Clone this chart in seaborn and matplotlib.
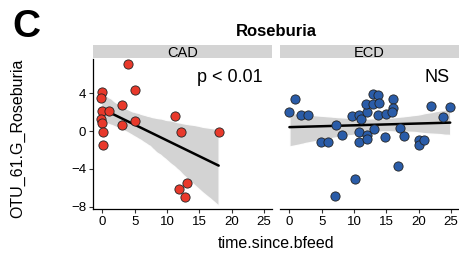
import matplotlib
matplotlib.use("Agg")
import matplotlib.pyplot as plt
import numpy as np
import pandas as pd
import seaborn as sns

# CAD group
cad_time = [3.9, 0.0, -0.2, 5.1, 3.1, 0.0, 1.0, -0.2, -0.1, 3.1, 5.0, 0.15, 0.05,
            11.2, 12.1, 18.0, 13.1, 11.9, 12.8]
cad_otu = [7.05, 4.14, 3.47, 4.4, 2.8, 2.1, 2.1, 1.26, 0.9, 0.63, 1.1, -0.07, -1.5,
           1.6, -0.1, -0.07, -5.5, -6.1, -7.0]

# ECD group
ecd_time = [0.0, 0.8, 1.85, 2.9, 4.9, 5.95, 7.2, 8.15, 7.0, 10.1, 9.75, 10.8, 11.1,
            10.7, 10.8, 12.0, 11.9, 12.0, 12.0, 12.9, 13.0, 13.1, 13.7, 13.85, 13.7,
            14.8, 15.0, 16.0, 16.05, 15.9, 16.8, 17.1, 17.8, 20.05, 20.1, 20.9,
            21.85, 23.85, 24.9]
ecd_otu = [2.07, 3.37, 1.7, 1.7, -1.1, -1.16, 0.6, -0.4, -6.9, -5.05, 1.6, 1.7, 1.3,
           -0.1, -1.1, 2.0, 2.9, -0.4, -0.85, 3.97, 2.9, 0.2, 3.8, 3.0, 1.7,
           -0.6, 1.8, 3.37, 2.45, 2.0, -3.65, 0.3, -0.5, -0.95, -1.5, -0.95,
           2.66, 1.47, 2.5]

panels = ['CAD', 'ECD']
colors = {'CAD': '#e8392b', 'ECD': '#2a5ca8'}
labels = {'CAD': 'p < 0.01', 'ECD': 'NS'}
y_ticks = [-8, -4, 0, 4]
x_ticks = [0, 5, 10, 15, 20, 25]

df = pd.concat([
    pd.DataFrame({'time.since.bfeed': cad_time, 'OTU_61.G_Roseburia': cad_otu, 'group': 'CAD'}),
    pd.DataFrame({'time.since.bfeed': ecd_time, 'OTU_61.G_Roseburia': ecd_otu, 'group': 'ECD'}),
])

sns.set_style('white')
plt.rcParams['font.family'] = ['Liberation Sans', 'DejaVu Sans']
plt.rcParams['text.color'] = 'black'
plt.rcParams['axes.labelcolor'] = 'black'

W, H = 460, 254
fig = plt.figure(figsize=(W / 100, H / 100), dpi=100)

def rect(x0, y0, x1, y1):
    return [x0 / W, 1 - y1 / H, (x1 - x0) / W, (y1 - y0) / H]

boxes = {'CAD': (93, 59, 272, 209), 'ECD': (280, 59, 459, 209)}

for g in panels:
    x0, y0, x1, y1 = boxes[g]
    ax = fig.add_axes(rect(x0, y0, x1, y1))
    sub = df[df['group'] == g]
    # smooth line + 95% band, points on top
    sns.regplot(data=sub, x='time.since.bfeed', y='OTU_61.G_Roseburia', ax=ax,
                scatter=False, ci=95, seed=1, truncate=True,
                line_kws={'color': 'black', 'lw': 1.8})
    for c in ax.collections:
        c.set_facecolor('#cfcfcf')
        c.set_alpha(0.9)
    sns.scatterplot(data=sub, x='time.since.bfeed', y='OTU_61.G_Roseburia', ax=ax,
                    color=colors[g], edgecolor='#222222', linewidth=0.6, s=44, zorder=5)
    ax.set_xlim(-1.46, 26.26)
    ax.set_ylim(-8.24, 7.63)
    ax.set_xticks(x_ticks)
    ax.set_yticks(y_ticks)
    ax.set_xlabel('')
    ax.set_ylabel('')
    for s in ['top', 'right']:
        ax.spines[s].set_visible(False)
    ax.spines['bottom'].set_color('black')
    ax.spines['bottom'].set_linewidth(0.9)
    ax.tick_params(axis='both', length=3, width=0.8, color='#333333',
                   labelsize=9.5, labelcolor='black', pad=2, bottom=True, left=True)
    if g == 'CAD':
        ax.spines['left'].set_color('black')
        ax.spines['left'].set_linewidth(0.9)
    else:
        ax.spines['left'].set_visible(False)
        ax.tick_params(axis='y', left=False, labelleft=False)
    ax.text(0.95, 0.88, labels[g], transform=ax.transAxes, ha='right', va='center',
            fontsize=13)

    # facet strip
    sax = fig.add_axes(rect(x0, 45, x1, 58))
    sax.set_facecolor('#d4d4d4')
    sax.set_xticks([])
    sax.set_yticks([])
    for s in sax.spines.values():
        s.set_visible(False)
    sax.text(0.5, 0.42, g, ha='center', va='center', fontsize=10.5, transform=sax.transAxes)

fig.text(276 / W, 1 - 31 / H, 'Roseburia', ha='center', va='center', fontsize=12,
         fontweight='bold')
fig.text(276 / W, 1 - 244 / H, 'time.since.bfeed', ha='center', va='center', fontsize=11.5)
fig.text(18 / W, 1 - 138 / H, 'OTU_61.G_Roseburia', ha='center', va='center',
         rotation=90, fontsize=11.5)
fig.text(12 / W, 1 - 27 / H, 'C', ha='left', va='center', fontsize=28, fontweight='bold')

fig.savefig('out.png', dpi=100)
